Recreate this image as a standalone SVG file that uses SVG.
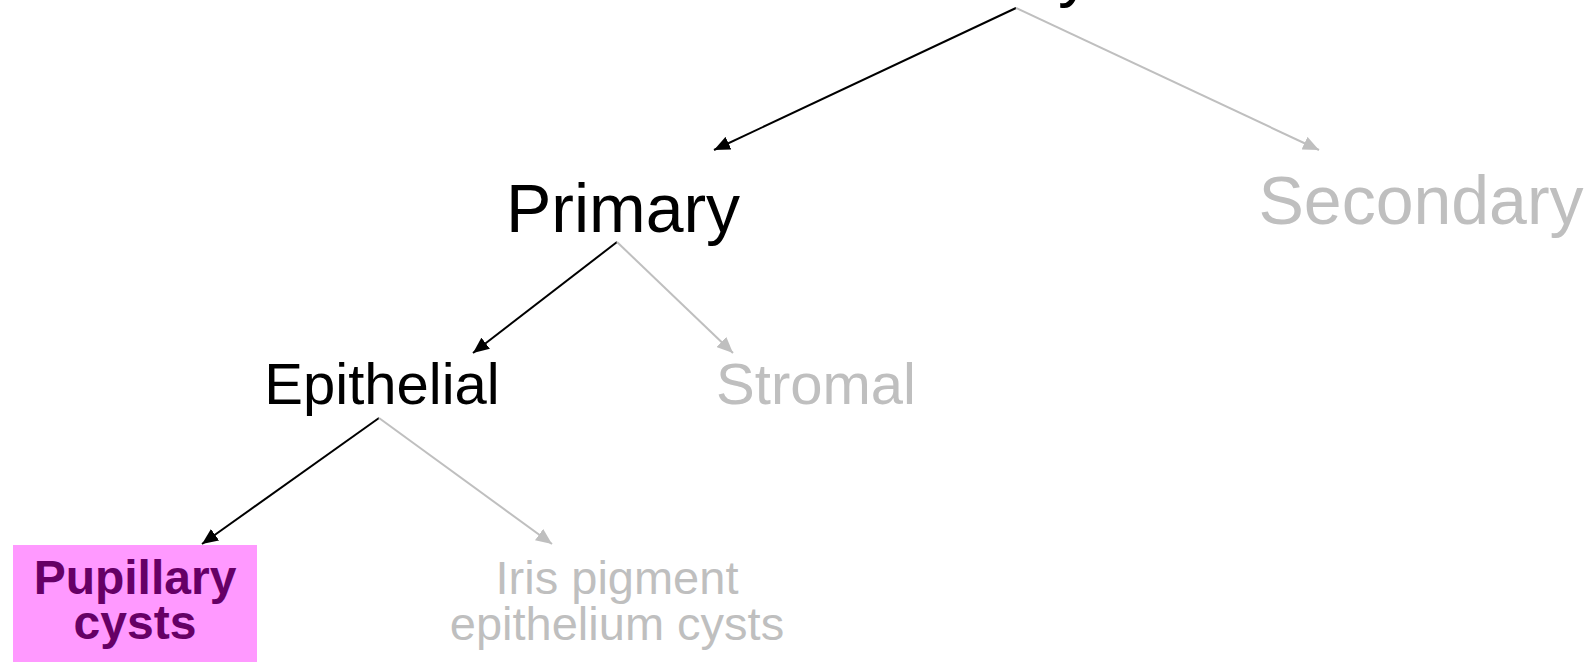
<svg xmlns="http://www.w3.org/2000/svg" width="1593" height="662" viewBox="0 0 1593 662">
<style>
.t{font-family:"Liberation Sans",Arial,sans-serif;text-anchor:middle}
.blk{fill:#000}
.gry{fill:#bfbfbf}
.lb{stroke:#000;stroke-width:2;fill:none}
.lg{stroke:#bfbfbf;stroke-width:2;fill:none}
</style>
<defs>
<marker id="ab" markerUnits="userSpaceOnUse" markerWidth="18" markerHeight="14" refX="16" refY="7" orient="auto"><path d="M0,0 L16,7 L0,14 Z" fill="#000"/></marker>
<marker id="ag" markerUnits="userSpaceOnUse" markerWidth="18" markerHeight="14" refX="16" refY="7" orient="auto"><path d="M0,0 L16,7 L0,14 Z" fill="#bfbfbf"/></marker>
</defs>
<rect width="1593" height="662" fill="#fff"/>
<g id="root"><text class="t blk" x="1075" y="-6" font-size="68">y</text></g>
<g id="connectors">
<path class="lb" d="M1016,8 L714,150" marker-end="url(#ab)"/>
<path class="lg" d="M1016,8 L1319,150" marker-end="url(#ag)"/>
<path class="lb" d="M617,242 L473,353" marker-end="url(#ab)"/>
<path class="lg" d="M617,242 L733,353" marker-end="url(#ag)"/>
<path class="lb" d="M379,418 L202,544" marker-end="url(#ab)"/>
<path class="lg" d="M379,418 L552,544" marker-end="url(#ag)"/>
</g>
<g id="primary"><text class="t blk" x="623" y="232" font-size="68">Primary</text></g>
<g id="secondary"><text class="t gry" x="1421" y="224" font-size="68">Secondary</text></g>
<g id="epithelial"><text class="t blk" x="382" y="404" font-size="58">Epithelial</text></g>
<g id="stromal"><text class="t gry" x="816" y="404" font-size="58">Stromal</text></g>
<g id="pupillary">
<rect x="13" y="545" width="244" height="117" fill="#ff99ff"/>
<text class="t" x="135" y="594" font-size="48" font-weight="bold" fill="#660066">Pupillary</text>
<text class="t" x="135" y="639" font-size="48" font-weight="bold" fill="#660066">cysts</text>
</g>
<g id="iris">
<text class="t gry" x="617" y="594" font-size="47">Iris pigment</text>
<text class="t gry" x="617" y="640" font-size="47">epithelium cysts</text>
</g>
</svg>
